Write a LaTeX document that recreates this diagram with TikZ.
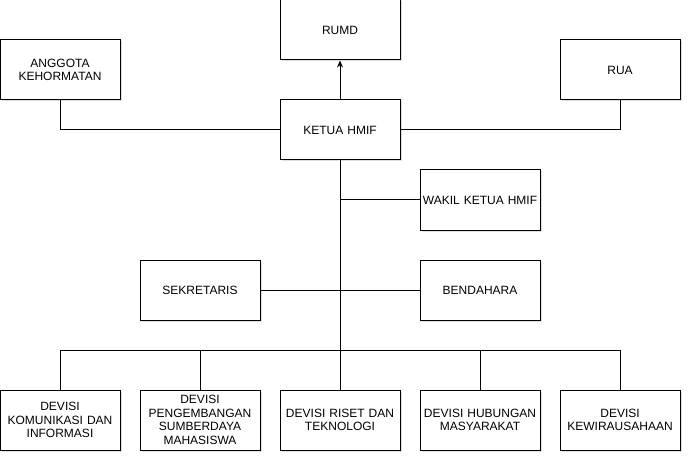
\documentclass[tikz,border=0pt]{standalone}
\usepackage{fontspec}
\setmainfont{Liberation Sans}
\usetikzlibrary{arrows.meta,shadows}
\tikzset{
  jabatan/.style={draw, fill=white, line width=1pt, minimum width=120pt, minimum height=60pt,
    text width=116pt, align=center, inner sep=1pt, font=\fontsize{12}{13.5}\selectfont,
    drop shadow={opacity=0.25, shadow xshift=1.5pt, shadow yshift=-1.5pt}},
  garis/.style={line width=1pt}
}
\begin{document}
\begin{tikzpicture}[x=1pt,y=-1pt]
\useasboundingbox (0,0) rectangle (692,462);
% pimpinan
\node[jabatan] (rumd) at (340,30) {RUMD};
\node[jabatan] (ak) at (60,70) {ANGGOTA\\KEHORMATAN};
\node[jabatan] (rua) at (620,70) {RUA};
\node[jabatan] (ketua) at (340,130) {KETUA HMIF};
\node[jabatan] (wakil) at (480,200) {WAKIL KETUA HMIF};
\node[jabatan] (sek) at (200,290) {SEKRETARIS};
\node[jabatan] (bend) at (480,290) {BENDAHARA};
% devisi
\node[jabatan] (d1) at (60,420) {DEVISI\\KOMUNIKASI DAN\\INFORMASI};
\node[jabatan] (d2) at (200,420) {DEVISI\\PENGEMBANGAN\\SUMBERDAYA\\MAHASISWA};
\node[jabatan] (d3) at (340,420) {DEVISI RISET DAN\\TEKNOLOGI};
\node[jabatan] (d4) at (480,420) {DEVISI HUBUNGAN\\MASYARAKAT};
\node[jabatan] (d5) at (620,420) {DEVISI\\KEWIRAUSAHAAN};
\coordinate (hub) at (340,350);
% garis
\draw[garis,-{Stealth[length=7pt,width=6pt]}] (ketua.north) -- (rumd.south);
\draw[garis] (ak.south) |- (ketua.west);
\draw[garis] (rua.south) |- (ketua.east);
\draw[garis] (ketua.south) -- (hub);
\draw[garis] (wakil.west) -- (wakil.west -| ketua.south);
\draw[garis] (sek.east) -- (bend.west);
\foreach \d in {d1,d2,d3,d4,d5}
\draw[garis] (hub) -| (\d.north);
\end{tikzpicture}
\end{document}
